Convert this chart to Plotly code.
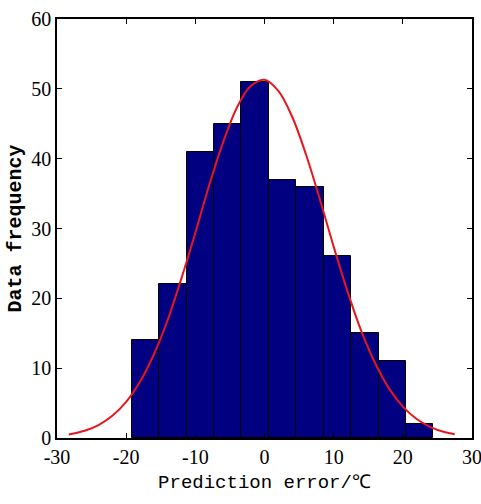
import plotly.graph_objects as go

# Histogram data
bin_edges = [-19.2, -15.235, -11.27, -7.305, -3.34, 0.625, 4.59, 8.555,
             12.52, 16.485, 20.45, 24.415]
counts = [14, 22, 41, 45, 51, 37, 36, 26, 15, 11, 2]

# Fitted normal curve
curve_x = [-28.3, -26, -24, -22, -20, -18, -16, -14, -12, -10, -8, -6, -4, -2, 0,
           2, 4, 6, 8, 10, 12, 14, 16, 18, 20, 22, 24, 26, 27.5]
curve_y = [0.5, 1.04, 1.86, 3.18, 5.18, 8.06, 11.96, 16.9, 22.9, 29.4, 36.2, 42.3,
           47.3, 50.4, 51.3, 49.7, 46.0, 40.6, 34.2, 27.4, 21.0, 15.3, 10.7, 7.1,
           4.5, 2.72, 1.57, 0.86, 0.53]

x_ticks = [-30, -20, -10, 0, 10, 20, 30]
y_ticks = [0, 10, 20, 30, 40, 50, 60]

centers = [(a + b) / 2 for a, b in zip(bin_edges[:-1], bin_edges[1:])]
widths = [b - a for a, b in zip(bin_edges[:-1], bin_edges[1:])]

fig = go.Figure()
fig.add_trace(go.Bar(
    x=centers, y=counts, width=widths,
    marker=dict(color="#000080", line=dict(color="black", width=1)),
    showlegend=False,
))
fig.add_trace(go.Scatter(
    x=curve_x, y=curve_y, mode="lines", line_shape="spline",
    line=dict(color="#e8161c", width=2), showlegend=False,
))

axis_common = dict(
    showline=True, linecolor="black", linewidth=1.6, mirror="allticks",
    ticks="inside", ticklen=5, tickwidth=1.3, tickcolor="black",
    showgrid=False, zeroline=False, automargin=False,
    ticklabeloverflow="allow",
    tickfont=dict(family="Liberation Serif", size=20, color="black"),
)

fig.update_layout(
    width=481, height=504,
    margin=dict(l=57, r=9, t=19, b=66),
    paper_bgcolor="white", plot_bgcolor="white",
    bargap=0,
    xaxis=dict(range=[-30, 30], tickvals=x_ticks,
               ticktext=[str(v) for v in x_ticks],
               title=dict(text="Prediction error/\u2103", standoff=8,
                          font=dict(family="Liberation Mono", size=19, color="black")),
               **axis_common),
    yaxis=dict(range=[0, 60], tickvals=y_ticks,
               title=dict(text="<b>Data frequency</b>", standoff=4,
                          font=dict(family="Liberation Mono", size=20, color="black")),
               **axis_common),
)

fig.write_html("out.html")
